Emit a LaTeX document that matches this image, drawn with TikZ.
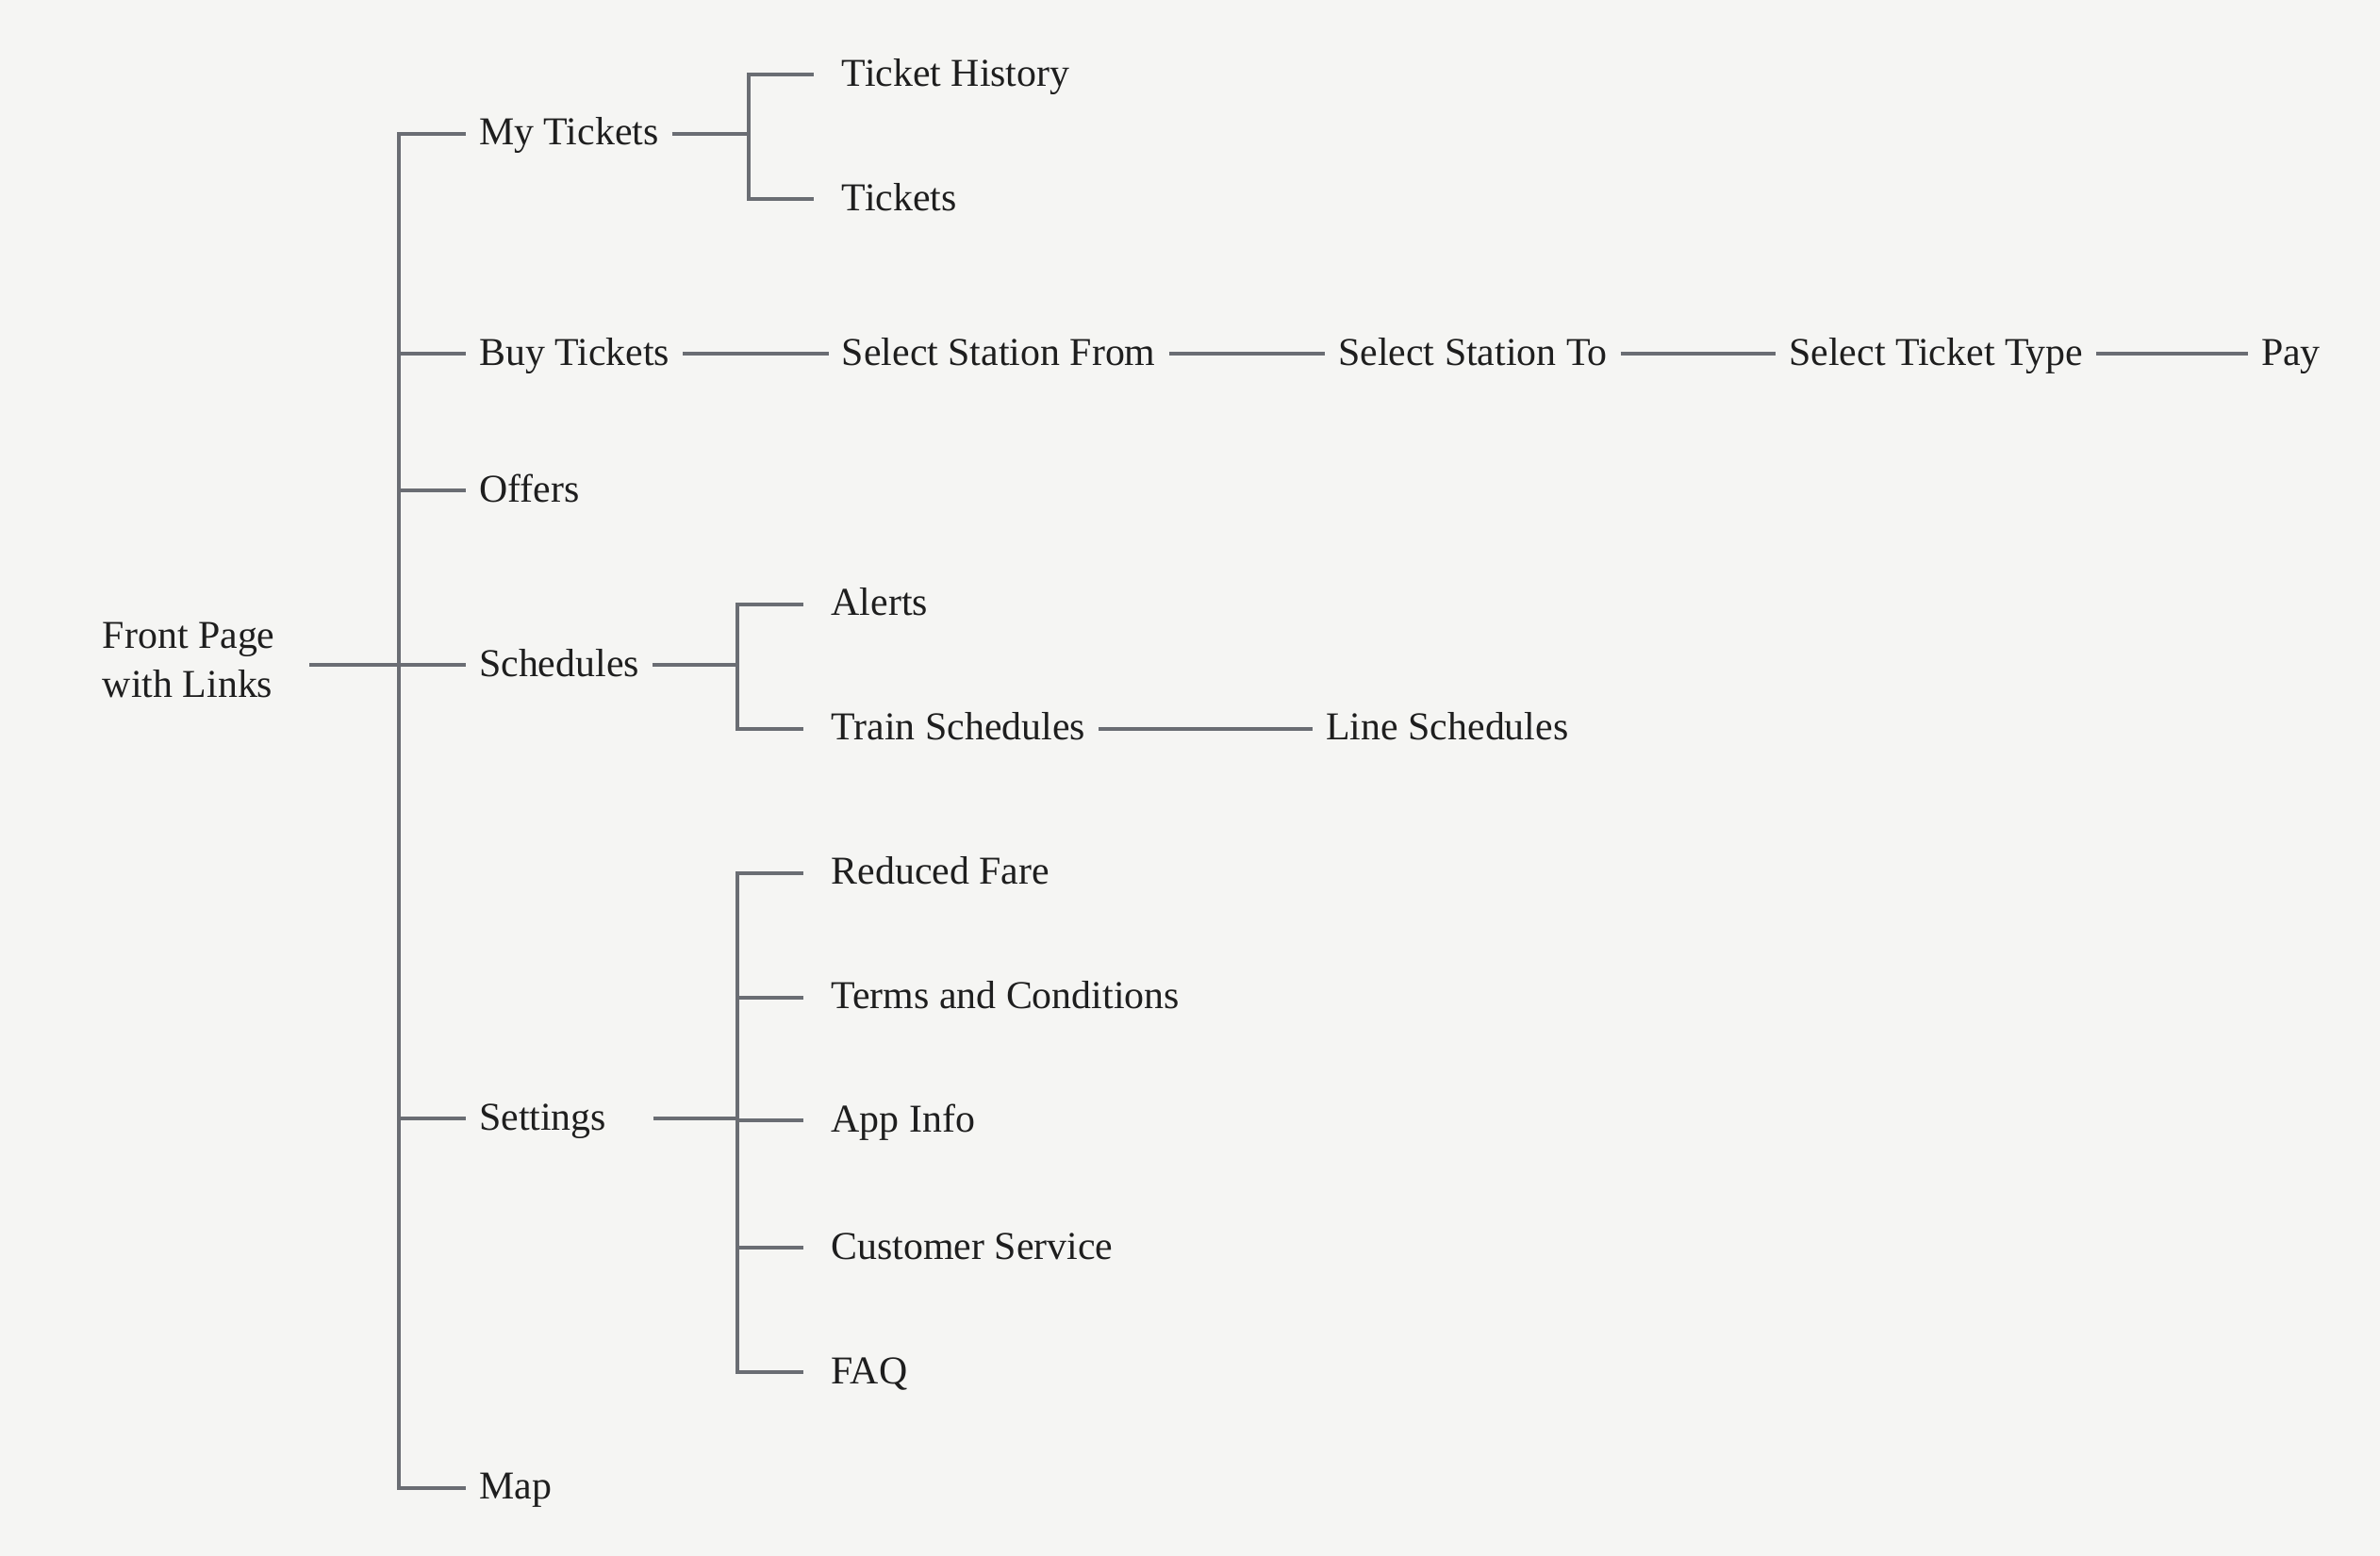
\documentclass[tikz,border=0pt]{standalone}
\usepackage{fontspec}
\setmainfont{Liberation Serif}
\definecolor{bgpaper}{HTML}{F5F5F3}
\definecolor{linkgray}{HTML}{6A6D73}
\definecolor{inkdark}{HTML}{1E1E1E}
\begin{document}
\begin{tikzpicture}[every node/.style={font=\fontsize{7.4}{9.1}\selectfont, text=inkdark}]
        % background and page size
        \fill[bgpaper] (0,0) rectangle (15.68,-10.25);
        \useasboundingbox (0,0) rectangle (15.68,-10.25);

        \tikzstyle{page} = [anchor=west, inner xsep=0.8mm, inner ysep=0pt, text height=5.5pt, text depth=1.2pt]
        \tikzstyle{link} = [draw=linkgray, line width=0.7pt]

        % trunks
        \coordinate (trunk) at (2.63,0);
        \coordinate (mysub) at (4.93,0);
        \coordinate (schsub) at (4.86,0);

        % 1. front page
        \node[anchor=west, inner xsep=0.8mm, align=left] (front) at (0.59,-4.35) {Front Page\\with Links};

        % 2. main menu
        \node[page] (mytk) at (3.07,-0.88) {My Tickets};
        \node[page] (buy) at (3.07,-2.33) {Buy Tickets};
        \node[page] (offer) at (3.07,-3.23) {Offers};
        \node[page] (sched) at (3.07,-4.38) {Schedules};
        \node[page] (sett) at (3.07,-7.37) {Settings};
        \node[page] (map) at (3.07,-9.80) {Map};

        % 3. my tickets
        \node[page] (hist) at (5.46,-0.49) {Ticket History};
        \node[page] (tick) at (5.46,-1.31) {Tickets};

        % 4. buying flow
        \node[page] (ssf) at (5.46,-2.33) {Select Station From};
        \node[page] (sst) at (8.73,-2.33) {Select Station To};
        \node[page] (stt) at (11.70,-2.33) {Select Ticket Type};
        \node[page] (pay) at (14.81,-2.33) {Pay};

        % 5. schedules
        \node[page] (alert) at (5.39,-3.98) {Alerts};
        \node[page] (train) at (5.39,-4.80) {Train Schedules};
        \node[page] (lines) at (8.65,-4.80) {Line Schedules};

        % 6. settings
        \node[page] (fare) at (5.39,-5.75) {Reduced Fare};
        \node[page] (terms) at (5.39,-6.57) {Terms and Conditions};
        \node[page] (info) at (5.39,-7.38) {App Info};
        \node[page] (care) at (5.39,-8.22) {Customer Service};
        \node[page] (faq) at (5.39,-9.04) {FAQ};

        % connectors
        \draw[link] ([xshift=1.4mm]front.east |- sched) -- (trunk |- sched);
        \draw[link] (mytk.west) -- (trunk |- mytk) -- (trunk |- map) -- (map.west);
        \foreach \p in {buy,offer,sched,sett}
            \draw[link] (trunk |- \p) -- (\p.west);

        \draw[link] (mytk.east) -- (mysub |- mytk);
        \draw[link] ([xshift=-1mm]hist.west) -- (mysub |- hist) -- (mysub |- tick) -- ([xshift=-1mm]tick.west);

        \foreach \a/\b in {buy/ssf, ssf/sst, sst/stt, stt/pay, train/lines}
            \draw[link] (\a.east) -- (\b.west);

        \draw[link] (sched.east) -- (schsub |- sched);
        \draw[link] ([xshift=-1mm]alert.west) -- (schsub |- alert) -- (schsub |- train) -- ([xshift=-1mm]train.west);

        \draw[link] ([xshift=2.2mm]sett.east) -- (schsub |- sett);
        \draw[link] ([xshift=-1mm]fare.west) -- (schsub |- fare) -- (schsub |- faq) -- ([xshift=-1mm]faq.west);
        \foreach \c in {terms,info,care}
            \draw[link] (schsub |- \c) -- ([xshift=-1mm]\c.west);
\end{tikzpicture}
\end{document}
